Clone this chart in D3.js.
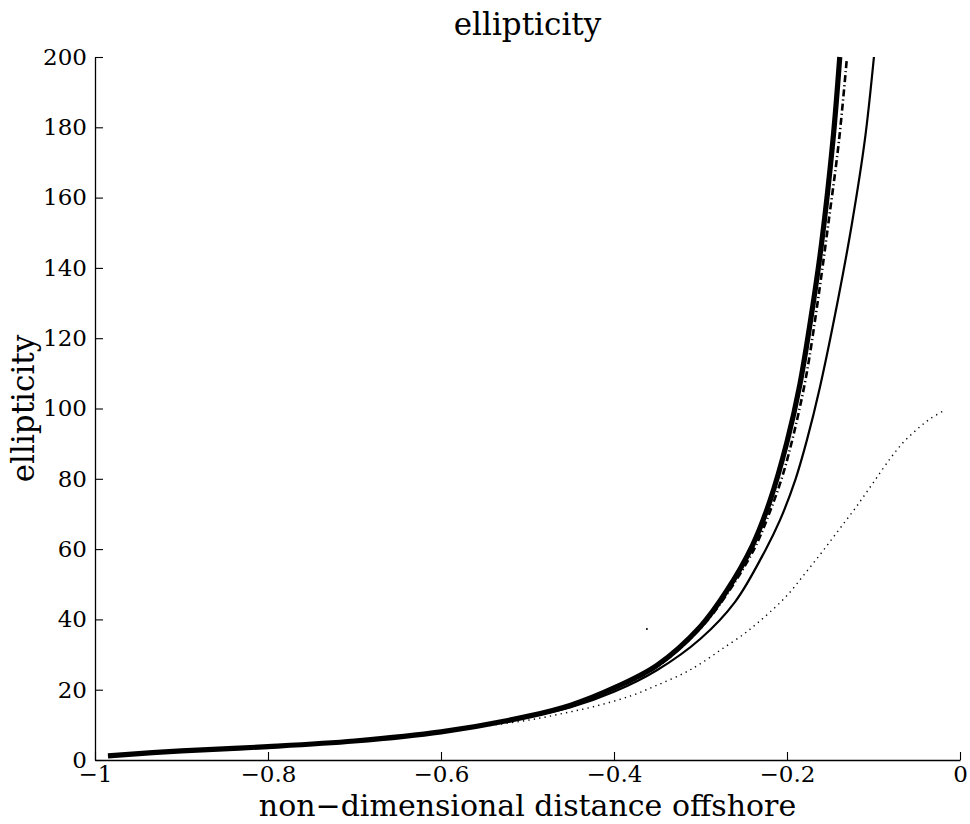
<!DOCTYPE html>
<html>
<head>
<meta charset="utf-8">
<script src="https://cdn.jsdelivr.net/npm/d3@7"></script>
<style>
  html, body { margin: 0; padding: 0; background: #fff; }
  svg { display: block; }
  text { font-family: "DejaVu Serif", serif; fill: #000; }
</style>
</head>
<body>
<script>
// ---- data ----
const xTicks = [-1, -0.8, -0.6, -0.4, -0.2, 0];
const yTicks = [0, 20, 40, 60, 80, 100, 120, 140, 160, 180, 200];

const thickX = [-0.985, -0.9, -0.8, -0.7, -0.6, -0.5, -0.45, -0.4, -0.35, -0.3, -0.27, -0.24, -0.22, -0.2, -0.185, -0.17, -0.16, -0.147, -0.139];
const thickY = [1.2, 2.6, 3.8, 5.4, 8.0, 12.4, 15.6, 20.5, 27, 38, 48, 61, 73.5, 90.5, 107, 129.5, 147, 176, 200];

const dashX = [-0.985, -0.9, -0.8, -0.7, -0.6, -0.5, -0.45, -0.4, -0.35, -0.3, -0.27, -0.238, -0.22, -0.205, -0.192, -0.178, -0.165, -0.152, -0.14, -0.131];
const dashY = [1.2, 2.6, 3.8, 5.4, 7.9, 12.3, 15.4, 20.2, 26.6, 37.5, 47, 60, 70.5, 81, 93, 109, 129.5, 153, 176, 199];

const thinX = [-0.985, -0.9, -0.8, -0.7, -0.6, -0.5, -0.45, -0.4, -0.35, -0.3, -0.26, -0.225, -0.208, -0.19, -0.177, -0.162, -0.141, -0.125, -0.11, -0.0995];
const thinY = [1.2, 2.6, 3.8, 5.4, 7.9, 12.2, 15.0, 19.4, 25.6, 34.5, 45, 59.7, 68.3, 80, 91, 106, 131, 152.5, 176.4, 200];

const dotX = [-0.6, -0.55, -0.5, -0.46, -0.42, -0.38, -0.35, -0.32, -0.3, -0.275, -0.25, -0.235, -0.22, -0.2, -0.18, -0.16, -0.14, -0.12, -0.1, -0.08, -0.065, -0.05, -0.035, -0.017];
const dotY = [8.0, 9.6, 11.3, 13.2, 15.4, 18.3, 21.3, 24.6, 27.4, 31.6, 35.8, 38.8, 42, 46.8, 52.8, 59, 65.5, 72, 79, 86, 90.5, 94, 97, 99.6];

const strayX = [-0.362];
const strayY = [37.3];

const titleText = "ellipticity";
const xLabel = "non\u2212dimensional distance offshore";
const yLabel = "ellipticity";

// ---- layout ----
const W = 970, H = 824;
const m = { left: 95, right: 10, top: 57, bottom: 64 };

const svg = d3.select("body").append("svg").attr("width", W).attr("height", H);

const x = d3.scaleLinear().domain([-1, 0]).range([m.left, W - m.right]);
const y = d3.scaleLinear().domain([0, 200]).range([H - m.bottom, m.top]);

const fmt = d => d === 0 ? "0" : String(d).replace("-", "\u2212");

// axes
const gx = svg.append("g").attr("transform", `translate(0,${y(0)})`)
  .call(d3.axisBottom(x).tickValues(xTicks).tickFormat(fmt).tickSizeInner(-8).tickSizeOuter(0).tickPadding(5));
const gy = svg.append("g").attr("transform", `translate(${x(-1)},0)`)
  .call(d3.axisLeft(y).tickValues(yTicks).tickFormat(fmt).tickSizeInner(-8).tickSizeOuter(0).tickPadding(8));

[gx, gy].forEach(g => {
  g.selectAll("path.domain").attr("stroke", "#000").attr("stroke-width", 1.3);
  g.selectAll(".tick line").attr("stroke", "#000").attr("stroke-width", 1.1);
  g.selectAll(".tick text").attr("font-family", "DejaVu Serif").attr("font-size", 23).attr("fill", "#000");
});
gx.selectAll(".tick text").attr("dy", "0.75em");

// lines
const mk = (xs, ys) => xs.map((v, i) => [v, ys[i]]);
const line = d3.line().x(d => x(d[0])).y(d => y(d[1])).curve(d3.curveCatmullRom.alpha(0.5));

svg.append("path").datum(mk(dotX, dotY)).attr("d", line)
  .attr("fill", "none").attr("stroke", "#000").attr("stroke-width", 1.4)
  .attr("stroke-dasharray", "1.3,4.2");

svg.append("path").datum(mk(thinX, thinY)).attr("d", line)
  .attr("fill", "none").attr("stroke", "#000").attr("stroke-width", 2.2);

svg.append("path").datum(mk(thickX, thickY)).attr("d", line)
  .attr("fill", "none").attr("stroke", "#000").attr("stroke-width", 5.2);

svg.append("path").datum(mk(dashX, dashY)).attr("d", line)
  .attr("fill", "none").attr("stroke", "#000").attr("stroke-width", 2.6)
  .attr("stroke-dasharray", "7,3,1.2,3");

svg.selectAll("circle.stray").data(mk(strayX, strayY)).enter().append("circle")
  .attr("class", "stray").attr("cx", d => x(d[0])).attr("cy", d => y(d[1])).attr("r", 1).attr("fill", "#000");

// texts
svg.append("text").attr("x", (x(-1) + x(0)) / 2).attr("y", 35)
  .attr("text-anchor", "middle").attr("font-size", 31).text(titleText);

svg.append("text").attr("x", (x(-1) + x(0)) / 2).attr("y", 816)
  .attr("text-anchor", "middle").attr("font-size", 30).text(xLabel);

svg.append("text").attr("transform", `translate(34,${(y(0) + y(200)) / 2})rotate(-90)`)
  .attr("text-anchor", "middle").attr("font-size", 31).text(yLabel);
</script>
</body>
</html>
